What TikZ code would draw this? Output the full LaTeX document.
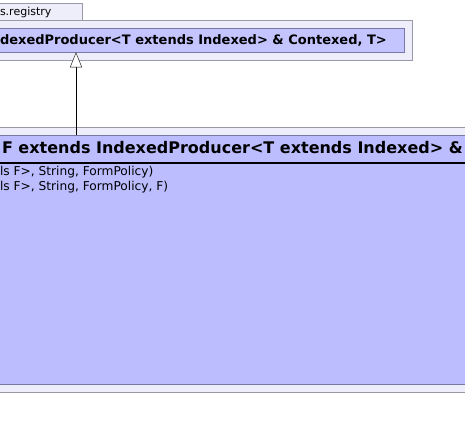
\documentclass[tikz,border=0pt]{standalone}
\usepackage{fontspec}
\setmainfont{DejaVu Sans}
\usetikzlibrary{arrows.meta}
\definecolor{pkgfill}{RGB}{238,238,250}
\definecolor{pkgline}{RGB}{153,153,170}
\definecolor{clsfill}{RGB}{187,189,255}
\definecolor{clsfilltop}{RGB}{196,196,255}
\definecolor{clsline}{RGB}{119,119,170}
\begin{document}
\begin{tikzpicture}[x=1pt,y=-1pt]
    \useasboundingbox (0,0) rectangle (465,430);
    \clip (0,0) rectangle (465,430);
    \begin{scope}
        \tikzstyle{every node}=[inner sep=0pt, outer sep=0pt, text=black]
        % upper package
        \node[draw=pkgline, fill=pkgfill, anchor=north east, minimum width=100pt, minimum height=17pt] (tab) at (82,3) {};
        \node[anchor=west, font=\fontsize{11}{13}\selectfont] (tablabel) at (0,12) {s.registry};
        \node[draw=pkgline, fill=pkgfill, anchor=north east, minimum width=440pt, minimum height=40.5pt] (pkgtop) at (412.5,20) {};
        \node[draw=clsline, fill=clsfilltop, anchor=north east, minimum width=430pt, minimum height=24.3pt] (parent) at (404.5,28) {};
        \node[anchor=west, font=\bfseries\fontsize{13}{15}\selectfont] (parentname) at (0,40.5) {dexedProducer<T extends Indexed> \& Contexed, T>};
        % lower package
        \node[draw=pkgline, fill=pkgfill, anchor=north west, minimum width=500pt, minimum height=265pt] (pkglow) at (-10,127.3) {};
        \node[draw=clsline, fill=clsfill, anchor=north west, minimum width=500pt, minimum height=249pt] (child) at (-10,135.3) {};
        \node[anchor=west, font=\bfseries\fontsize{16}{18}\selectfont] (childname) at (2,148) {F extends IndexedProducer<T extends Indexed> \&};
        \node[anchor=west, font=\fontsize{12.2}{14}\selectfont] (ctor1) at (0,172.5) {ls F>, String, FormPolicy)};
        \node[anchor=west, font=\fontsize{12.2}{14}\selectfont] (ctor2) at (0,187.5) {ls F>, String, FormPolicy, F)};
        \coordinate (arrowx) at (76,0);
    \end{scope}
    \begin{scope}
        \tikzstyle{every path}=[draw=black]
        \draw[line width=2pt] (child.west |- 0,162.7) -- (child.east |- 0,162.7);
        \draw[-{Triangle[open, width=12pt, length=15pt, fill=white]}] (child.north -| arrowx) -- (parent.south -| arrowx);
    \end{scope}
\end{tikzpicture}
\end{document}
